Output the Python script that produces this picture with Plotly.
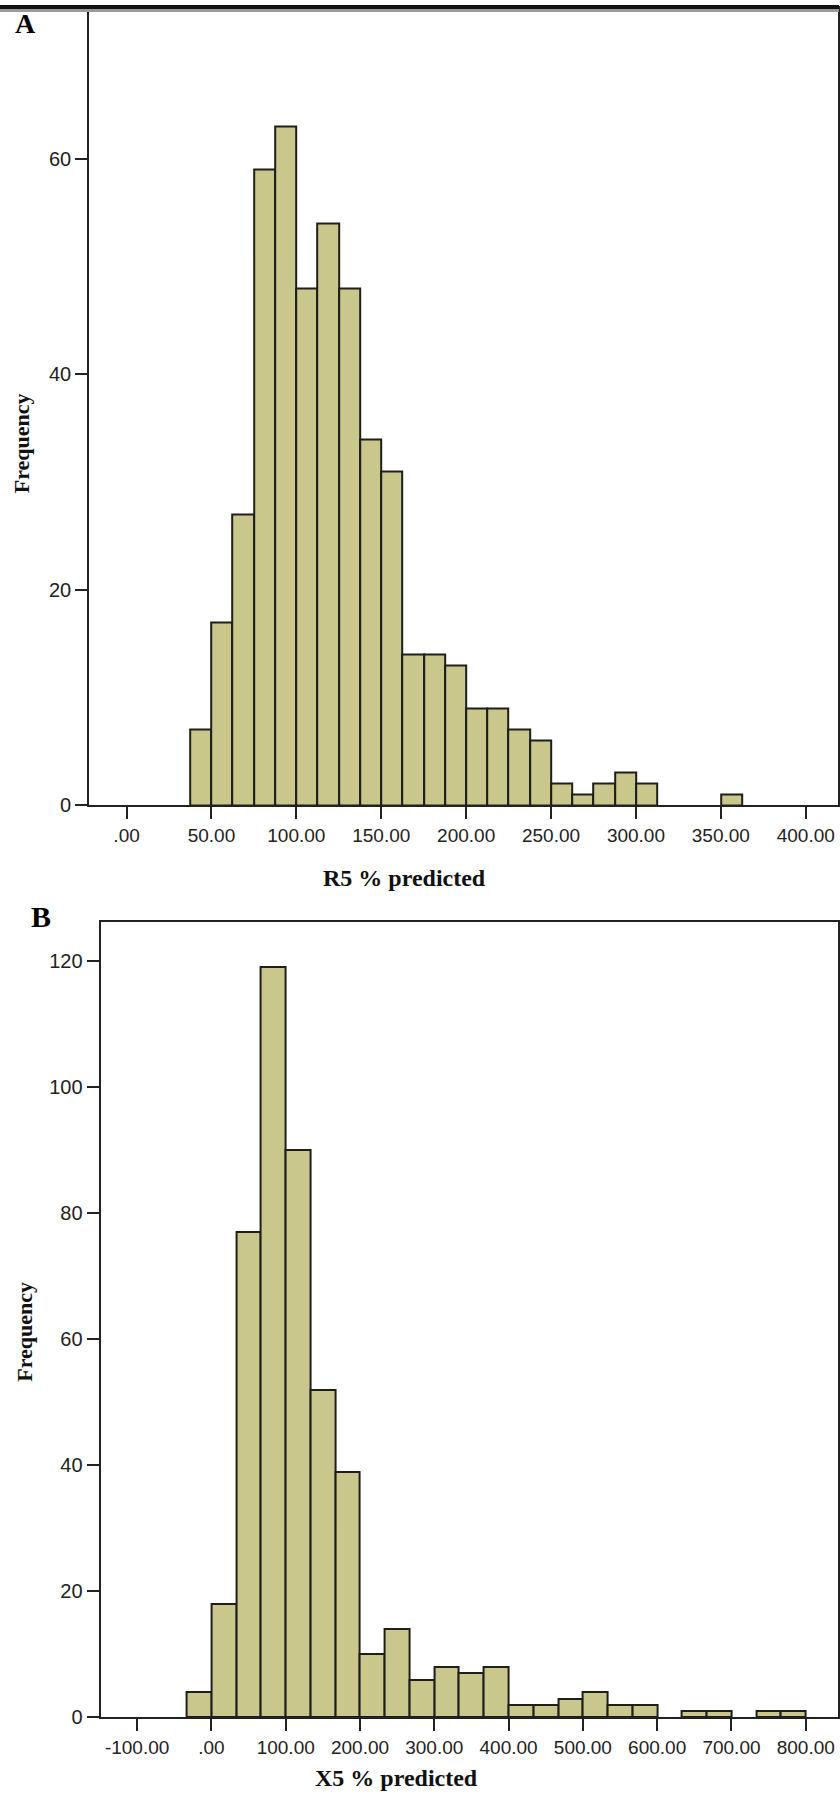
import numpy as np
import plotly.graph_objects as go

# ---------------- data ----------------
# Panel A: R5 % predicted histogram (bin width 12.5, first bin starts at 37.5)
r5_bin_start = 37.5
r5_bin_width = 12.5
r5_counts = [7, 17, 27, 59, 63, 48, 54, 48, 34, 31, 14, 14, 13, 9, 9, 7, 6,
             2, 1, 2, 3, 2, 0, 0, 0, 1]
r5_tickvals = [0, 50, 100, 150, 200, 250, 300, 350, 400]
r5_ticktext = [".00", "50.00", "100.00", "150.00", "200.00", "250.00",
               "300.00", "350.00", "400.00"]
r5_ytickvals = [0, 20, 40, 60]

# Panel B: X5 % predicted histogram (bin width 33.33, first bin starts at -33.33)
x5_bin_start = -100.0 / 3
x5_bin_width = 100.0 / 3
x5_counts = [4, 18, 77, 119, 90, 52, 39, 10, 14, 6, 8, 7, 8, 2, 2, 3, 4, 2, 2,
             0, 1, 1, 0, 1, 1]
x5_tickvals = [-100, 0, 100, 200, 300, 400, 500, 600, 700, 800]
x5_ticktext = ["-100.00", ".00", "100.00", "200.00", "300.00", "400.00",
               "500.00", "600.00", "700.00", "800.00"]
x5_ytickvals = [0, 20, 40, 60, 80, 100, 120]

# ---------------- style ----------------
W, H = 840, 1804
FILL = "#c9c78b"
EDGE = "#1e1e1a"
AX = "#222222"
XTICKFONT = dict(family="Liberation Sans, Arial, sans-serif", size=19, color="#222222")
YTICKFONT = dict(family="Liberation Sans, Arial, sans-serif", size=20, color="#222222")
SERIF = "Liberation Serif, Times New Roman, serif"


def px_x(p):
    return p / W


def px_y(p):
    return 1 - p / H


def drawn(vals):
    # empty bins are left undrawn, as in the original histogram
    return [v if v else None for v in vals]


r5_centers = r5_bin_start + r5_bin_width * (np.arange(len(r5_counts)) + 0.5)
x5_centers = x5_bin_start + x5_bin_width * (np.arange(len(x5_counts)) + 0.5)

fig = go.Figure()
fig.add_trace(go.Bar(
    x=r5_centers, y=drawn(r5_counts), width=r5_bin_width,
    marker=dict(color=FILL, line=dict(color=EDGE, width=2)),
    xaxis="x", yaxis="y", hoverinfo="x+y",
))
fig.add_trace(go.Bar(
    x=x5_centers, y=drawn(x5_counts), width=x5_bin_width,
    marker=dict(color=FILL, line=dict(color=EDGE, width=2)),
    xaxis="x2", yaxis="y2", hoverinfo="x+y",
))

common_axis = dict(
    showline=True, linecolor=AX, linewidth=2, mirror=True,
    ticks="outside", ticklen=12, tickwidth=2, tickcolor=AX,
    showgrid=False, zeroline=False, fixedrange=True,
)

fig.update_layout(
    width=W, height=H,
    margin=dict(l=0, r=0, t=0, b=0),
    paper_bgcolor="white", plot_bgcolor="white",
    showlegend=False, bargap=0,
    xaxis=dict(domain=[px_x(89.3), px_x(839)], range=[-22.0, 419.0],
               anchor="y", tickmode="array", tickvals=r5_tickvals,
               ticktext=r5_ticktext, tickfont=XTICKFONT, **common_axis),
    yaxis=dict(domain=[px_y(810), px_y(8.5)], range=[0, 74],
               anchor="x", tickmode="array", tickvals=r5_ytickvals,
               tickfont=YTICKFONT, **common_axis),
    xaxis2=dict(domain=[px_x(100.7), px_x(839)], range=[-149.2, 843.4],
                anchor="y2", tickmode="array", tickvals=x5_tickvals,
                ticktext=x5_ticktext, tickfont=XTICKFONT, **common_axis),
    yaxis2=dict(domain=[px_y(1728), px_y(927.7)], range=[0, 126.2],
                anchor="x2", tickmode="array", tickvals=x5_ytickvals,
                tickfont=YTICKFONT, **common_axis),
)

# thick rule across the top of the figure
fig.add_shape(type="line", xref="paper", yref="paper", x0=0, x1=1,
              y0=px_y(10.5), y1=px_y(10.5), line=dict(color="#9a9a9a", width=3))
fig.add_shape(type="line", xref="paper", yref="paper", x0=0, x1=1,
              y0=px_y(7), y1=px_y(7), line=dict(color="#111111", width=4))

ann = []
ann.append(dict(text="<b>A</b>", x=px_x(26), y=px_y(24), font=dict(family=SERIF, size=28, color="black")))
ann.append(dict(text="<b>B</b>", x=px_x(41), y=px_y(922), font=dict(family=SERIF, size=30, color="black")))
ann.append(dict(text="<b>R5 % predicted</b>", x=px_x(405), y=px_y(883), font=dict(family=SERIF, size=24, color="#111")))
ann.append(dict(text="<b>X5 % predicted</b>", x=px_x(397), y=px_y(1789), font=dict(family=SERIF, size=24, color="#111")))
ann.append(dict(text="<b>Frequency</b>", x=px_x(21), y=px_y(446), textangle=-90, font=dict(family=SERIF, size=22, color="#111")))
ann.append(dict(text="<b>Frequency</b>", x=px_x(25), y=px_y(1340), textangle=-90, font=dict(family=SERIF, size=22, color="#111")))
for a in ann:
    a.update(xref="paper", yref="paper", xanchor="center", yanchor="middle", showarrow=False)
fig.update_layout(annotations=ann)

fig.write_html(
    "out.html",
    config={"displayModeBar": False, "staticPlot": False},
    post_script="document.body.style.margin='0';document.body.style.padding='0';"
                "document.documentElement.style.overflow='hidden';",
)
